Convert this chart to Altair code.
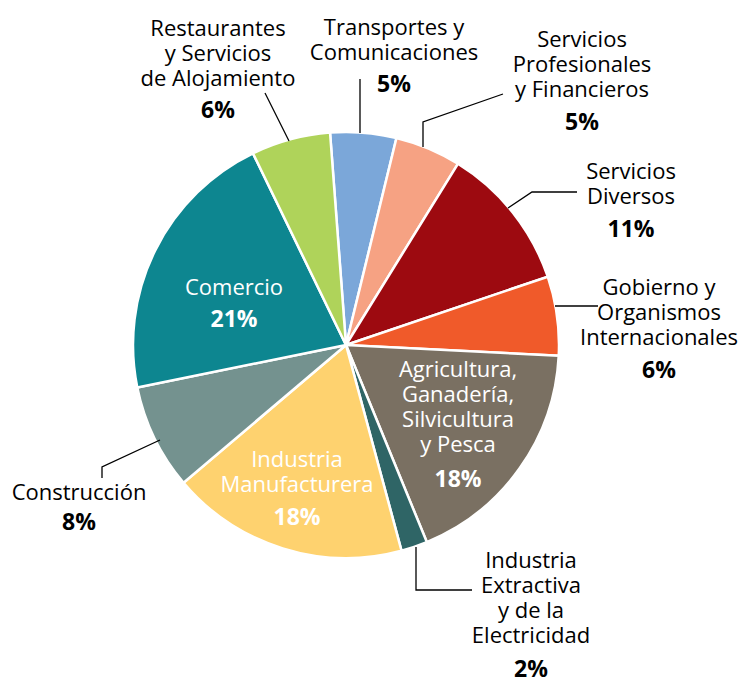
import math
import altair as alt
import pandas as pd

# ---------------- DATA ----------------
sectors = [
    "Transportes y Comunicaciones",
    "Servicios Profesionales y Financieros",
    "Servicios Diversos",
    "Gobierno y Organismos Internacionales",
    "Agricultura, Ganadería, Silvicultura y Pesca",
    "Industria Extractiva y de la Electricidad",
    "Industria Manufacturera",
    "Construcción",
    "Comercio",
    "Restaurantes y Servicios de Alojamiento",
]
shares = [5, 5, 11, 6, 18, 2, 18, 8, 21, 6]
label_text = [
    "Transportes y\nComunicaciones",
    "Servicios\nProfesionales\ny Financieros",
    "Servicios\nDiversos",
    "Gobierno y\nOrganismos\nInternacionales",
    "Agricultura,\nGanadería,\nSilvicultura\ny Pesca",
    "Industria\nExtractiva\ny de la\nElectricidad",
    "Industria\nManufacturera",
    "Construcción",
    "Comercio",
    "Restaurantes\ny Servicios\nde Alojamiento",
]
inside = [False, False, False, False, True, False, True, False, True, False]

# ---------------- STYLE ----------------
colors = ["#7BA7D9", "#F6A283", "#9D0A10", "#F05A2A", "#7A7062",
          "#2F6566", "#FED26F", "#74928F", "#0D8690", "#AFD35A"]

# ---------------- LAYOUT (page pixels) ----------------
W, H, M = 732, 671, 8
CX, CY, R = 346, 345, 213
START = -0.075  # radians, first slice start angle
name_x = [394, 582, 631, 659, 458, 531, 297, 79, 234, 218]
name_y = [35, 47, 179, 295, 377, 568, 467, 500, 295, 36]
pct_y = [92, 130, 237, 378, 487, 677, 525, 530, 327, 118]

leaders = {
    "Restaurantes": [(265, 93), (289, 141)],
    "Transportes": [(360, 79), (360, 133)],
    "ServProf": [(503, 94), (423, 122), (423, 147)],
    "ServDiv": [(577, 192), (532, 192), (508, 208)],
    "Gobierno": [(555, 306), (598, 306)],
    "Extractiva": [(416, 547), (416, 590), (472, 590)],
    "Construccion": [(160, 440), (102, 467), (102, 478)],
}

# ---------------- BUILD ----------------
df = pd.DataFrame({
    "sector": sectors,
    "share": shares,
    "idx": list(range(len(sectors))),
    "label": label_text,
    "pct": [f"{s}%" for s in shares],
    "inside": inside,
    "nx": name_x,
    "ny": name_y,
    "py": pct_y,
})
df["tcolor"] = ["white" if v else "black" for v in inside]

lines_rows = []
for key, pts in leaders.items():
    for i, (x, y) in enumerate(pts):
        lines_rows.append({"g": key, "i": i, "x": x, "y": y})
lines_df = pd.DataFrame(lines_rows)

xs = alt.Scale(domain=[M, M + W], range=[0, W])
ys = alt.Scale(domain=[M, M + H], range=[0, H])

pie = alt.Chart(df).mark_arc(outerRadius=R, stroke="white", strokeWidth=2.5).encode(
    theta=alt.Theta("share:Q", stack=True,
                    scale=alt.Scale(range=[START, START + 2 * math.pi])),
    color=alt.Color("sector:N", scale=alt.Scale(domain=sectors, range=colors), legend=None),
    order=alt.Order("idx:Q", sort="ascending"),
    x=alt.value(CX - M),
    y=alt.value(CY - M),
)

leader = alt.Chart(lines_df).mark_line(color="black", strokeWidth=1.3).encode(
    x=alt.X("x:Q", scale=xs, axis=None),
    y=alt.Y("y:Q", scale=ys, axis=None),
    detail="g:N",
    order="i:Q",
)

FONT = "Open Sans"
names = alt.Chart(df).mark_text(
    font=FONT, fontSize=22, lineBreak="\n", lineHeight=25,
    align="center", baseline="alphabetic",
).encode(
    x=alt.X("nx:Q", scale=xs, axis=None),
    y=alt.Y("ny:Q", scale=ys, axis=None),
    text="label:N",
    color=alt.Color("tcolor:N", scale=None),
)

pcts = alt.Chart(df).mark_text(
    font=FONT, fontSize=23, fontWeight="bold",
    align="center", baseline="alphabetic",
).encode(
    x=alt.X("nx:Q", scale=xs, axis=None),
    y=alt.Y("py:Q", scale=ys, axis=None),
    text="pct:N",
    color=alt.Color("tcolor:N", scale=None),
)

chart = alt.layer(pie, leader, names, pcts).properties(
    width=W, height=H, padding=0, autosize="none",
).configure_view(stroke=None)

chart.save("out.html", embed_options={"renderer": "svg", "actions": False})
